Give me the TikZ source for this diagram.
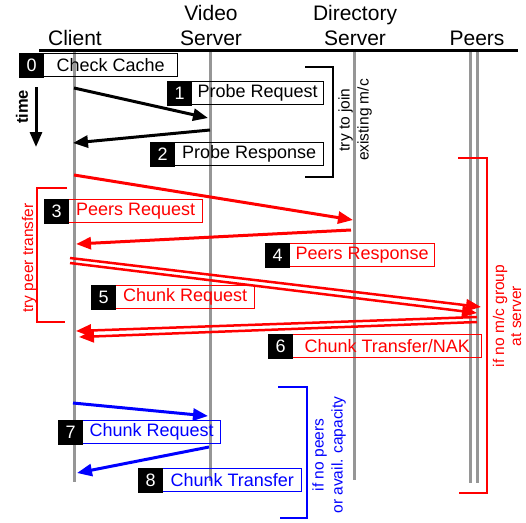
\documentclass[tikz,border=0pt]{standalone}
\usepackage{fontspec}
\setmainfont{Liberation Sans}
\usetikzlibrary{arrows.meta}

\definecolor{lifegray}{RGB}{150,150,150}
\definecolor{pred}{RGB}{255,0,0}
\definecolor{pblue}{RGB}{0,0,255}

% numbered message label: name, colour, left x, centre y, number, text width, text
\newcommand\msgstep[7]{%
  \node[msgtext,text=#2,minimum width=#6pt] (#1) at (#3+25,#4) {#7};
  \draw[#2,line width=1.3pt] ([xshift=2pt]#3,#4 |- #1.north) rectangle (#1.south east);
  \node[numbox] (#1n) at (#3,#4) {#5};
}

\begin{document}
\begin{tikzpicture}[x=1pt,y=-1pt,
  hdr/.style={font=\fontsize{21}{24}\selectfont,anchor=base,inner sep=0pt},
  lifeline/.style={draw=lifegray,line width=3pt},
  numbox/.style={fill=black,text=white,minimum size=25pt,inner sep=0pt,anchor=west,
    font=\fontsize{18}{20}\selectfont},
  msgtext/.style={minimum height=22pt,inner sep=0pt,anchor=west,
    font=\fontsize{18}{20}\selectfont},
  msg/.style={line width=3pt,-{Triangle[length=15pt,width=12pt]}},
  dmsg/.style={line width=2.5pt,-{Triangle[length=15pt,width=12pt]}},
  bracket/.style={line width=1.8pt},
  note/.style={rotate=90,align=center,inner sep=0pt,
    font=\fontsize{15.5}{19}\selectfont}]

\useasboundingbox (0,0) rectangle (526,522);

% column headings
\node[hdr] (hclient) at (75,45) {Client};
\node[hdr] (hvideo1) at (211,20) {Video};
\node[hdr] (hvideo2) at (211,45) {Server};
\node[hdr] (hdir1) at (355,20) {Directory};
\node[hdr] (hdir2) at (355,45) {Server};
\node[hdr] (hpeers) at (477,45) {Peers};
\draw[line width=3pt] (39,50) -- (518,50);

% lifelines
\draw[lifeline] (74,52) -- (74,482);
\draw[lifeline] (210,52) -- (210,481);
\draw[lifeline] (354,52) -- (354,480);
\draw[lifeline] (470,52) -- (470,483);
\draw[lifeline] (477,52) -- (477,483);

% time axis
\node[rotate=90,inner sep=0pt,font=\bfseries\fontsize{16.5}{18}\selectfont] (time) at (22,107) {time};
\coordinate (t0) at (36,87);
\coordinate (t1) at (36,147);
\draw[msg] (t0) -- (t1);

% message labels
\msgstep{s0}{black}{19}{65}{0}{133}{Check Cache}
\msgstep{s1}{black}{167}{93}{1}{131}{Probe Request}
\msgstep{s2}{black}{150}{154}{2}{148}{Probe Response}
\msgstep{s3}{pred}{44}{211}{3}{133}{Peers Request}
\msgstep{s4}{pred}{265}{255}{4}{144}{Peers Response}
\msgstep{s5}{pred}{91}{297}{5}{138}{Chunk Request}
\msgstep{s6}{pred}{268}{346}{6}{188}{Chunk Transfer/NAK}
\msgstep{s7}{pblue}{58}{432}{7}{137}{Chunk Request}
\msgstep{s8}{pblue}{138}{480}{8}{138}{Chunk Transfer}

% message end points
\coordinate (a1s) at (74,88);   \coordinate (a1e) at (208,118);
\coordinate (a2s) at (210,130); \coordinate (a2e) at (73,143);
\coordinate (a3s) at (74,175);  \coordinate (a3e) at (353,220);
\coordinate (a4s) at (351,230); \coordinate (a4e) at (76,244);
\coordinate (a5s) at (70,258);  \coordinate (a5e) at (481,307);
\coordinate (b5s) at (70,263);  \coordinate (b5e) at (477,313);
\coordinate (a6s) at (477,317); \coordinate (a6e) at (76,331);
\coordinate (b6s) at (477,322); \coordinate (b6e) at (79,337);
\coordinate (a7s) at (73,403);  \coordinate (a7e) at (208,416);
\coordinate (a8s) at (209,447); \coordinate (a8e) at (77,473);

% messages
\draw[msg] (a1s) -- (a1e);
\draw[msg] (a2s) -- (a2e);
\draw[msg,pred] (a3s) -- (a3e);
\draw[msg,pred] (a4s) -- (a4e);
\draw[dmsg,pred] (a5s) -- (a5e);
\draw[dmsg,pred] (b5s) -- (b5e);
\draw[dmsg,pred] (a6s) -- (a6e);
\draw[dmsg,pred] (b6s) -- (b6e);
\draw[msg,pblue] (a7s) -- (a7e);
\draw[msg,pblue] (a8s) -- (a8e);

% phase brackets
\draw[bracket] (305,67) -- (333,67) -- (333,177) -- (305,177);
\node[note] (njoin) at (355,120) {try to join\\existing m/c};

\draw[bracket,pred,line width=1.5pt] (67,188) -- (37,188) -- (37,322) -- (65,322);
\node[note,text=pred] (npeer) at (29,258) {try peer transfer};

\draw[bracket,pred,line width=1.5pt] (458,158) -- (487,158) -- (487,493) -- (459,493);
\node[note,text=pred,font=\fontsize{15.5}{17}\selectfont] (ngroup) at (507,316) {if no m/c group\\at server};

\draw[bracket,pblue,line width=1.5pt] (278,387) -- (307,387) -- (307,518) -- (280,518);
\node[note,text=pblue] (ncap) at (329,455) {if no peers\\or avail. capacity};

\end{tikzpicture}
\end{document}
